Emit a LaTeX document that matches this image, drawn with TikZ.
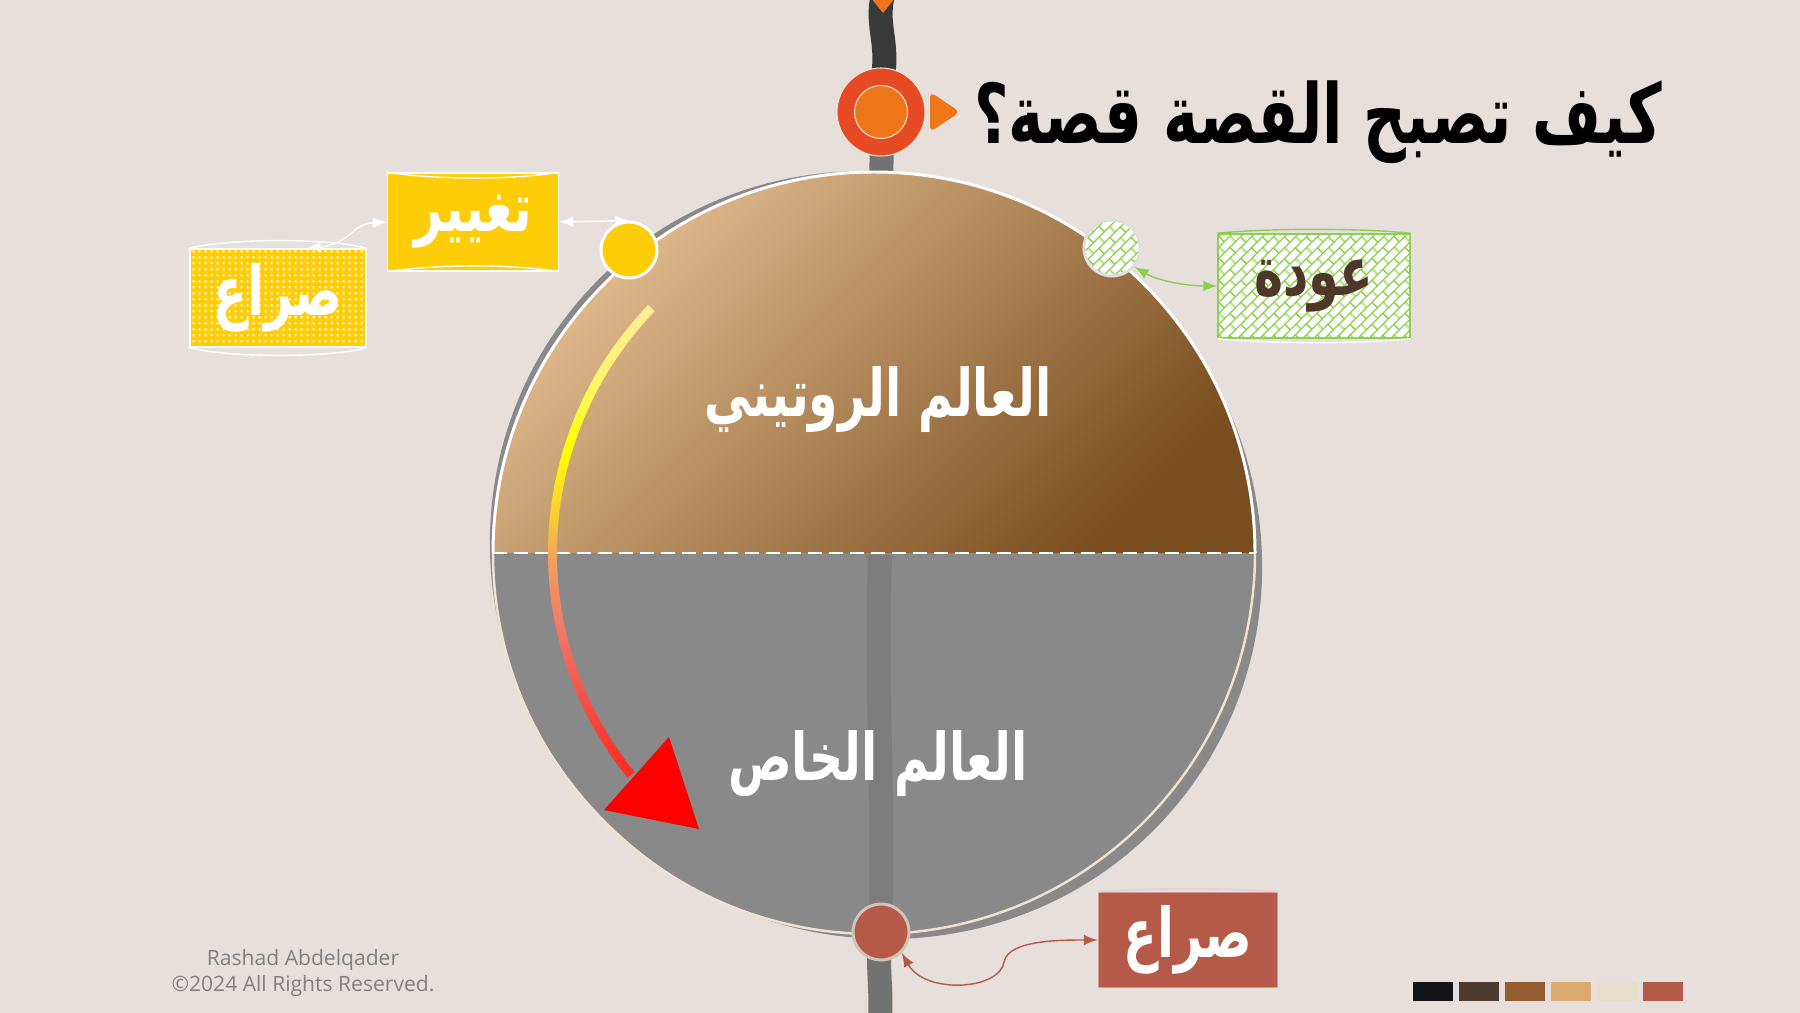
\documentclass[tikz,border=0pt]{standalone}
\usepackage{fontspec}
\setsansfont{Open Sans}
\newfontfamily\arabicfont[Script=Arabic, FakeStretch=0.72]{DejaVu Sans}
\TeXXeTstate=1
\usetikzlibrary{arrows}
\usetikzlibrary{patterns.meta}

\definecolor{paper}{HTML}{E6DFDC}
\definecolor{roaddark}{HTML}{3A3A3A}
\definecolor{roadgray}{HTML}{727272}
\definecolor{roadmid}{HTML}{7C7C7C}
\definecolor{diskgray}{HTML}{898989}
\definecolor{cream}{HTML}{EFE3D0}
\definecolor{brownlight}{HTML}{E4BF92}
\definecolor{brownmid}{HTML}{9C6428}
\definecolor{browndark}{HTML}{7A4E1F}
\definecolor{sun}{HTML}{FFCC08}
\definecolor{leaf}{HTML}{8DD04E}
\definecolor{rust}{HTML}{B55A48}
\definecolor{ink}{HTML}{4E3629}
\definecolor{recred}{HTML}{E64A25}
\definecolor{recorange}{HTML}{EE7518}
\definecolor{footgray}{HTML}{808080}
% colours of the crossing arc, bottom to top
\definecolor{arcA}{HTML}{FF2A1E}
\definecolor{arcB}{HTML}{F65045}
\definecolor{arcC}{HTML}{F07A6A}
\definecolor{arcD}{HTML}{F2A060}
\definecolor{arcE}{HTML}{F8C83A}
\definecolor{arcF}{HTML}{FFFF00}
\definecolor{arcG}{HTML}{FFF46A}
\definecolor{arcH}{HTML}{FFEC98}
% palette
\definecolor{swatchA}{HTML}{141418}
\definecolor{swatchB}{HTML}{4E3B30}
\definecolor{swatchC}{HTML}{955E32}
\definecolor{swatchD}{HTML}{DAAA6E}
\definecolor{swatchE}{HTML}{E8DDCC}
\definecolor{swatchF}{HTML}{B45A48}

\pgfdeclareverticalshading{crossglow}{100bp}{color(0bp)=(arcA); color(25bp)=(arcA); color(33bp)=(arcB); color(41bp)=(arcC); color(48bp)=(arcD); color(52bp)=(arcE); color(60bp)=(arcF); color(67bp)=(arcG); color(75bp)=(arcH); color(100bp)=(arcH)}

\tikzdeclarepattern{
  name=diagbricks,
  tile size={(4.4pt,4.4pt)},
  bounding box={(0pt,0pt) and (4.4pt,4.4pt)},
  tile transformation={rotate=45},
  code={
    \draw[line width=.4pt] (0pt,1.1pt) -- (4.4pt,1.1pt) (0pt,3.3pt) -- (4.4pt,3.3pt)
      (1.1pt,1.1pt) -- (1.1pt,3.3pt) (3.3pt,3.3pt) -- (3.3pt,4.4pt) (3.3pt,0pt) -- (3.3pt,1.1pt);
  }
}
\tikzdeclarepattern{
  name=finedots,
  tile size={(1.6pt,1.6pt)},
  bounding box={(0pt,0pt) and (1.6pt,1.6pt)},
  code={\fill (0.5pt,0.5pt) rectangle (1.1pt,1.1pt);}
}

\begin{document}
\begin{tikzpicture}
	[x=0.1mm, y=-0.1mm,
	card/.style={rectangle, inner sep=0pt, line width=0.4pt, font=\arabicfont\bfseries\fontsize{19.5}{23}\selectfont},
	sunny/.style={card, fill=sun, draw=white, text=white, minimum width=17.1mm, minimum height=9.8mm},
	speckled/.style={card, preaction={fill=sun}, pattern=finedots, pattern color=white, draw=white, text=white, minimum width=17.6mm, minimum height=9.8mm},
	bricked/.style={card, preaction={fill=white}, pattern=diagbricks, pattern color=leaf, draw=leaf, text=ink, minimum width=19.2mm, minimum height=10.4mm},
	rusty/.style={card, fill=rust, draw=rust!60!white, text=white, minimum width=17.9mm, minimum height=9.5mm},
	dot/.style={circle, inner sep=0pt, minimum size=5.6mm, line width=0.85pt},
	world/.style={text=white, font=\arabicfont\bfseries\fontsize{18.7}{23}\selectfont},
	link/.style={<->, >=latex, line width=0.4pt},
	sketch/.style={line width=0.4pt}]

\useasboundingbox (0,0) rectangle (1800,1013);
\fill[paper] (0,0) rectangle (1800,1013);

% the road through the story
\draw[roaddark, line width=2.4mm] (883,-5) .. controls (875,25) and (890,45) .. (882,80);
\draw[roadgray, line width=2.4mm] (882,140) -- (881,185);
\draw[roadgray, line width=2.4mm] (880,930) .. controls (877,970) and (882,990) .. (880,1020);
\fill[recorange] (871,-2) -- (895,-2) -- (883,13) -- cycle;

% the two worlds
\fill[diskgray, rotate around={-40:(876,555)}] (876,555) ellipse [x radius=391, y radius=379];
\draw[roadmid, line width=2.4mm] (880,555) .. controls (876,700) and (884,800) .. (880,935);
\draw[cream, line width=0.7pt] (493,553) arc (180:0:381);
\shade[top color=brownlight, middle color=brownmid, bottom color=browndark, shading angle=45]
	(493,553) arc (180:360:381) -- cycle;
\draw[white, line width=0.85pt] (493,553) arc (180:360:381);
\draw[white, line width=0.85pt, dash pattern=on 1.4mm off 0.7mm] (493,553) -- (1255,553);

% crossing into the special world
\shade[shading=crossglow] (905,553) ++(224:357) arc (224:141:357) -- ++(141:-9) arc (141:224:348) -- cycle;
\fill[red] (669,737) -- (699,829) -- (604,810) -- cycle;

\node[world] (routine) at (878,400) {\beginR العالم الروتيني\endR};
\node[world] (special) at (878,764) {\beginR العالم الخاص\endR};

% stations
\node[dot, fill=sun, draw=white] (sundot) at (629,250) {};
\node[dot, draw=gray!25, preaction={fill=white}, pattern=diagbricks, pattern color=leaf] (leafdot) at (1112,248) {};
\node[dot, fill=rust, draw=cream!70!gray] (rustdot) at (881,932) {};

\node[sunny] (change) at (473,222) {\beginR تغيير\endR};
\node[speckled] (clash) at (278,298) {\beginR صراع\endR};
\node[bricked] (return) at (1314,286) {\beginR عودة\endR};
\node[rusty] (conflict) at (1188,940) {\beginR صراع\endR};

\draw[sketch, white] (change.north west) .. controls (440,180) and (510,180) .. (change.north east);
\draw[sketch, white] (change.south west) .. controls (440,264) and (510,264) .. (change.south east);
\draw[sketch, white] (clash.north west) .. controls (230,238) and (330,238) .. (clash.north east);
\draw[sketch, white] (clash.south west) .. controls (230,358) and (330,358) .. (clash.south east);
\draw[sketch, leaf] (return.north west) .. controls (1270,228) and (1360,228) .. (return.north east);
\draw[sketch, white] (return.south west) .. controls (1270,344) and (1360,344) .. (return.south east);
\draw[sketch, white!70!rust] (conflict.north west) .. controls (1140,888) and (1240,888) .. (conflict.north east);

\draw[link, white] (clash.60) .. controls (352,244) and (350,224) .. (change.west);
\draw[link, white] (change.east) -- (sundot.north);
\draw[link, leaf] (leafdot.-40) .. controls (1160,282) and (1190,286) .. (return.west);
\draw[link, rust] (rustdot.-45) .. controls (925,995) and (1000,990) .. (1004,962)
	.. controls (1008,940) and (1060,940) .. (conflict.west);

% title with the record button
\node[circle, fill=recred, draw=cream, line width=0.3pt, minimum size=8.8mm, inner sep=0pt] (rec) at (881,112) {};
\node[circle, fill=recorange, draw=cream, line width=0.3pt, minimum size=5.3mm, inner sep=0pt] (recin) at (rec) {};
\fill[recorange, rounded corners=0.5mm] (930,92) -- (960,112) -- (930,132) -- cycle;
\node[anchor=west, font=\arabicfont\bfseries\fontsize{23.5}{28}\selectfont] (title) at (962,122) {\beginR كيف تصبح القصة قصة؟\endR};

\node[font=\sffamily\fontsize{6}{7.4}\selectfont, text=footgray, align=center] (credit) at (303,973) {Rashad Abdelqader\\©2024 All Rights Reserved.};

% palette
\foreach \c [count=\i from 0] in {swatchA, swatchB, swatchC, swatchD, swatchE, swatchF}
	\fill[\c] ({1413+46*\i},982) rectangle +(40,19);

\end{tikzpicture}
\end{document}
